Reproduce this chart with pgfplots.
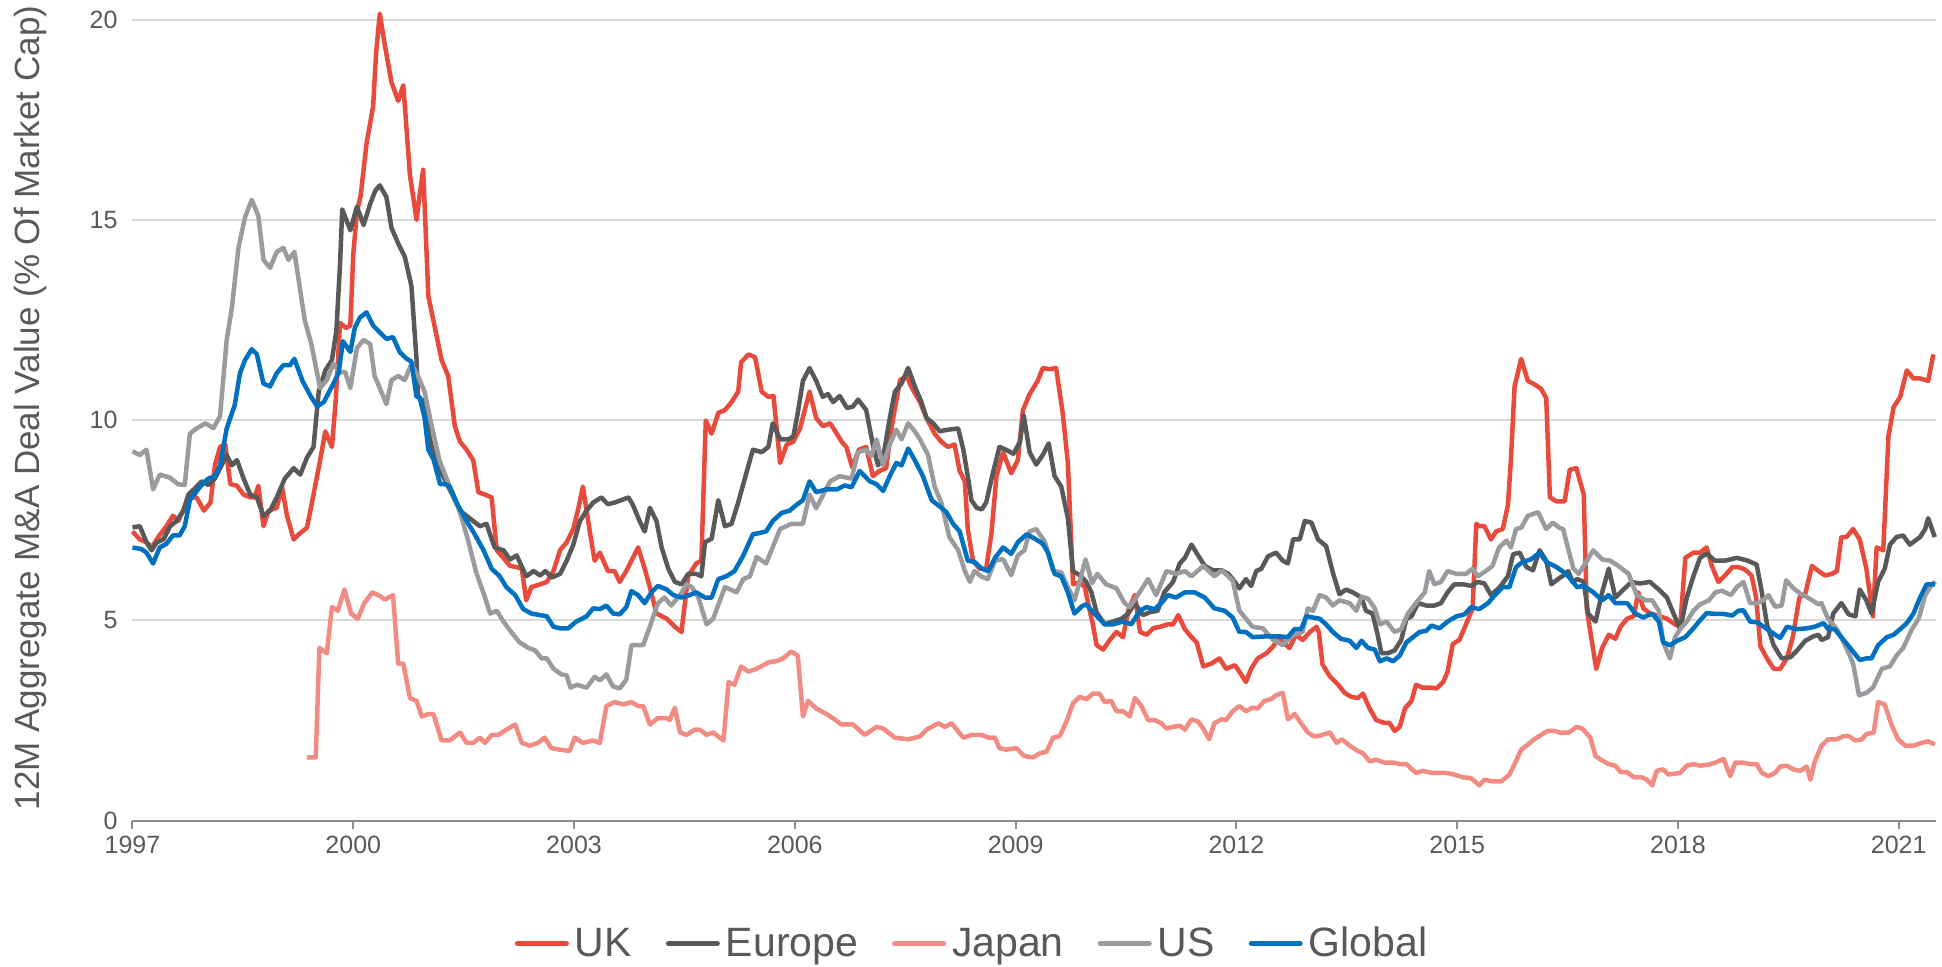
\documentclass[border=0pt]{standalone}
\usepackage{fontspec}
\setmainfont{Liberation Sans}
\usepackage{pgfplots}
\pgfplotsset{compat=1.18}
\definecolor{ukc}{HTML}{E84A3B}
\definecolor{euc}{HTML}{595959}
\definecolor{jpc}{HTML}{F28B82}
\definecolor{usc}{HTML}{999B9E}
\definecolor{glc}{HTML}{0070C0}
\definecolor{txt}{HTML}{595959}
\definecolor{grd}{HTML}{D9D9D9}
\definecolor{axc}{HTML}{8C8C8C}
\begin{document}
\begin{tikzpicture}
\begin{axis}[
 scale only axis, width=901.5pt, height=400.5pt,
 xmin=1997, xmax=2021.5, ymin=0, ymax=20,
 clip=false,
 xtick={1997,2000,2003,2006,2009,2012,2015,2018,2021},
 ytick={0,5,10,15,20},
 axis x line*=bottom, axis y line*=left,
 y axis line style={draw=none},
 x axis line style={axc, line width=1pt},
 xtick style={axc, line width=1pt},
 ytick style={draw=none},
 tick align=outside, major tick length=4pt,
 ymajorgrids, grid style={grd, line width=1pt},
 /pgf/number format/assume math mode=true,
 tick label style={font=\fontsize{12.5}{15}\selectfont, text=txt},
 xticklabel style={/pgf/number format/1000 sep={}},
 ylabel={12M Aggregate M\&A Deal Value (\% Of Market Cap)},
 ylabel style={at={(axis description cs:-0.05685,0.515)}, anchor=center, font=\fontsize{17.5}{21}\selectfont, text=txt},
 legend columns=5,
 legend style={at={(axis description cs:0.4651,-0.1536)}, anchor=center, draw=none, fill=none,
   font=\fontsize{20.5}{24}\selectfont, text=txt,
   /tikz/every odd column/.style={column sep=3pt},
   /tikz/every even column/.style={column sep=17pt},
   nodes={inner sep=0pt}},
 legend cell align=left,
 legend image code/.code={\draw[#1, line width=2.5pt, line cap=round] (1.25pt,0pt) -- (25.75pt,0pt);},
 no markers,
 every axis plot/.append style={line width=2.25pt, line join=round},
]
\addplot[ukc] coordinates {
(1997.00,7.22)(1997.10,7.02)(1997.19,6.95)(1997.26,6.82)(1997.35,7.08)(1997.46,7.35)(1997.55,7.61)(1997.62,7.48)(1997.69,7.74)(1997.78,8.07)(1997.87,8.07)(1997.97,7.74)
(1998.06,7.94)(1998.12,8.87)(1998.19,9.33)(1998.26,9.39)(1998.33,8.40)(1998.42,8.36)(1998.51,8.14)(1998.60,8.07)(1998.66,8.07)(1998.71,8.36)(1998.78,7.35)(1998.85,7.74)(1998.96,7.81)
(1999.03,8.34)(1999.10,7.61)(1999.19,7.02)(1999.26,7.15)(1999.37,7.31)(1999.46,8.14)(1999.55,9.00)(1999.62,9.72)(1999.71,9.33)(1999.76,10.45)(1999.82,12.43)(1999.90,12.30)(1999.96,12.36)
(2000.00,14.14)(2000.05,15.20)(2000.10,15.60)(2000.18,16.90)(2000.27,17.84)(2000.31,19.16)(2000.36,20.15)(2000.43,19.35)(2000.52,18.43)(2000.61,17.97)(2000.68,18.36)(2000.77,16.12)(2000.86,15.00)(2000.90,15.60)(2000.95,16.25)
(2001.02,13.09)(2001.11,12.30)(2001.20,11.50)(2001.29,11.10)(2001.38,9.85)(2001.45,9.46)(2001.54,9.26)(2001.63,9.00)(2001.70,8.20)(2001.79,8.14)(2001.88,8.07)(2001.95,6.75)
(2002.04,6.56)(2002.13,6.36)(2002.22,6.33)(2002.29,6.29)(2002.35,5.50)(2002.42,5.83)(2002.54,5.90)(2002.63,5.96)(2002.72,6.23)(2002.81,6.75)(2002.90,6.95)(2002.99,7.28)
(2003.06,7.81)(2003.12,8.34)(2003.22,7.15)(2003.28,6.49)(2003.35,6.69)(2003.46,6.23)(2003.55,6.23)(2003.62,5.96)(2003.71,6.23)(2003.80,6.56)(2003.87,6.82)(2003.96,6.29)
(2004.03,5.83)(2004.12,5.17)(2004.26,5.04)(2004.37,4.84)(2004.46,4.71)(2004.55,6.10)(2004.66,6.42)(2004.73,6.49)(2004.79,9.99)(2004.87,9.66)(2004.96,10.18)
(2005.05,10.25)(2005.14,10.45)(2005.23,10.71)(2005.27,11.44)(2005.37,11.64)(2005.46,11.57)(2005.55,10.71)(2005.64,10.58)(2005.71,10.60)(2005.80,8.93)(2005.89,9.39)(2005.98,9.46)
(2006.07,9.79)(2006.20,10.71)(2006.29,10.05)(2006.38,9.85)(2006.48,9.92)(2006.57,9.66)(2006.64,9.45)(2006.70,9.33)(2006.78,8.82)(2006.87,9.26)(2006.97,9.33)
(2007.06,8.60)(2007.15,8.73)(2007.24,8.80)(2007.33,9.99)(2007.43,11.00)(2007.52,11.10)(2007.58,10.84)(2007.70,10.45)(2007.79,10.05)(2007.90,9.66)(2007.99,9.46)
(2008.08,9.33)(2008.17,9.39)(2008.24,8.73)(2008.31,8.47)(2008.35,7.28)(2008.42,6.49)(2008.51,6.29)(2008.60,6.29)(2008.67,7.15)(2008.74,8.60)(2008.83,9.20)(2008.94,8.67)
(2009.03,9.00)(2009.10,10.25)(2009.19,10.65)(2009.30,10.98)(2009.37,11.30)(2009.46,11.27)(2009.55,11.30)(2009.64,10.18)(2009.71,8.93)(2009.78,5.90)(2009.87,5.95)(2009.94,5.83)
(2010.00,5.30)(2010.05,4.90)(2010.10,4.38)(2010.19,4.27)(2010.28,4.51)(2010.37,4.71)(2010.46,4.58)(2010.53,5.24)(2010.62,5.63)(2010.69,4.71)(2010.78,4.64)(2010.87,4.80)(2010.96,4.84)
(2011.07,4.90)(2011.14,4.90)(2011.21,5.13)(2011.30,4.78)(2011.39,4.58)(2011.46,4.45)(2011.55,3.85)(2011.66,3.92)(2011.77,4.05)(2011.86,3.79)(2011.98,3.88)
(2012.04,3.72)(2012.13,3.46)(2012.20,3.79)(2012.29,4.05)(2012.41,4.18)(2012.50,4.35)(2012.59,4.58)(2012.66,4.41)(2012.72,4.31)(2012.81,4.64)(2012.90,4.51)
(2013.00,4.71)(2013.09,4.84)(2013.12,4.70)(2013.17,3.90)(2013.27,3.60)(2013.38,3.40)(2013.47,3.19)(2013.56,3.09)(2013.65,3.06)(2013.72,3.17)(2013.81,2.80)(2013.90,2.51)
(2014.01,2.44)(2014.08,2.44)(2014.15,2.24)(2014.22,2.34)(2014.29,2.80)(2014.38,2.99)(2014.44,3.39)(2014.53,3.32)(2014.63,3.32)(2014.72,3.30)(2014.81,3.46)(2014.87,3.72)(2014.94,4.41)
(2015.03,4.51)(2015.12,4.90)(2015.21,5.30)(2015.26,7.41)(2015.30,7.35)(2015.37,7.35)(2015.46,7.02)(2015.53,7.22)(2015.62,7.28)(2015.69,7.88)(2015.73,9.00)(2015.78,10.84)(2015.87,11.53)(2015.96,10.98)
(2016.07,10.87)(2016.14,10.78)(2016.21,10.55)(2016.26,8.07)(2016.35,7.97)(2016.46,7.97)(2016.53,8.76)(2016.62,8.80)(2016.72,8.14)(2016.76,5.30)(2016.81,4.71)(2016.89,3.79)(2016.97,4.31)
(2017.06,4.64)(2017.15,4.54)(2017.22,4.84)(2017.31,5.04)(2017.40,5.10)(2017.46,5.70)(2017.53,5.30)(2017.62,5.17)(2017.76,5.10)(2017.85,5.04)(2017.96,4.90)
(2018.03,4.84)(2018.10,6.56)(2018.21,6.69)(2018.30,6.69)(2018.39,6.82)(2018.46,6.36)(2018.55,5.96)(2018.64,6.12)(2018.74,6.33)(2018.82,6.33)(2018.91,6.27)
(2019.00,6.12)(2019.06,5.60)(2019.12,4.35)(2019.21,4.05)(2019.30,3.79)(2019.39,3.79)(2019.48,4.05)(2019.56,4.58)(2019.65,5.57)(2019.73,5.66)(2019.82,6.36)(2019.91,6.23)
(2020.00,6.12)(2020.09,6.16)(2020.16,6.23)(2020.22,7.08)(2020.29,7.08)(2020.38,7.28)(2020.47,7.02)(2020.56,6.29)(2020.61,5.63)(2020.65,5.10)(2020.70,6.82)(2020.79,6.75)(2020.86,9.59)(2020.93,10.32)
(2021.02,10.58)(2021.11,11.24)(2021.20,11.04)(2021.29,11.04)(2021.40,10.98)(2021.47,11.64)
};
\addlegendentry{UK}
\addplot[euc] coordinates {
(1997.00,7.32)(1997.10,7.35)(1997.19,6.95)(1997.26,6.75)(1997.33,6.95)(1997.42,7.02)(1997.51,7.35)(1997.60,7.48)(1997.69,7.74)(1997.76,8.14)(1997.85,8.30)(1997.94,8.47)
(1998.03,8.38)(1998.12,8.54)(1998.19,8.80)(1998.28,9.13)(1998.35,8.87)(1998.42,9.00)(1998.51,8.54)(1998.60,8.14)(1998.69,8.07)(1998.78,7.61)(1998.87,7.74)(1998.96,8.07)
(1999.07,8.54)(1999.19,8.80)(1999.28,8.64)(1999.37,9.06)(1999.46,9.33)(1999.53,10.71)(1999.62,11.24)(1999.71,11.50)(1999.77,12.23)(1999.82,13.88)(1999.85,15.26)(1999.96,14.74)
(2000.05,15.33)(2000.14,14.87)(2000.23,15.40)(2000.30,15.73)(2000.36,15.86)(2000.45,15.57)(2000.52,14.80)(2000.61,14.41)(2000.70,14.08)(2000.79,13.35)(2000.86,11.50)(2000.88,10.58)(2000.97,10.45)
(2001.04,9.53)(2001.13,8.87)(2001.22,8.60)(2001.31,8.27)(2001.45,7.74)(2001.58,7.55)(2001.72,7.35)(2001.81,7.41)(2001.92,6.82)
(2002.04,6.75)(2002.13,6.52)(2002.22,6.62)(2002.35,6.10)(2002.45,6.23)(2002.54,6.12)(2002.61,6.23)(2002.70,6.07)(2002.81,6.16)(2002.90,6.49)(2002.99,6.89)
(2003.08,7.48)(2003.17,7.74)(2003.26,7.94)(2003.37,8.07)(2003.46,7.90)(2003.55,7.94)(2003.64,8.00)(2003.74,8.07)(2003.80,7.88)(2003.89,7.48)(2003.96,7.22)
(2004.03,7.81)(2004.12,7.48)(2004.19,6.82)(2004.28,6.29)(2004.37,5.96)(2004.46,5.90)(2004.55,6.16)(2004.66,6.16)(2004.73,6.10)(2004.78,6.95)(2004.87,7.04)(2004.96,8.00)
(2005.05,7.35)(2005.14,7.41)(2005.23,7.94)(2005.34,8.67)(2005.43,9.26)(2005.55,9.20)(2005.64,9.33)(2005.70,9.92)(2005.80,9.52)(2005.91,9.52)(2005.98,9.59)
(2006.04,10.18)(2006.11,10.98)(2006.20,11.30)(2006.29,10.98)(2006.38,10.58)(2006.45,10.65)(2006.52,10.45)(2006.61,10.60)(2006.71,10.30)(2006.79,10.34)(2006.86,10.51)(2006.97,10.25)
(2007.06,9.39)(2007.13,8.87)(2007.20,9.06)(2007.29,10.05)(2007.36,10.71)(2007.45,10.91)(2007.54,11.30)(2007.63,10.84)(2007.72,10.45)(2007.79,10.05)(2007.88,9.92)(2007.97,9.72)
(2008.08,9.76)(2008.22,9.79)(2008.29,9.26)(2008.35,8.60)(2008.40,8.00)(2008.47,7.81)(2008.54,7.77)(2008.60,7.94)(2008.69,8.67)(2008.78,9.33)(2008.87,9.26)(2008.97,9.16)
(2009.06,9.46)(2009.11,10.12)(2009.19,9.20)(2009.28,8.89)(2009.37,9.13)(2009.45,9.42)(2009.53,8.60)(2009.62,8.34)(2009.71,7.55)(2009.78,6.23)(2009.87,6.13)(2009.96,5.96)
(2010.03,5.70)(2010.10,5.20)(2010.21,4.90)(2010.32,4.97)(2010.44,5.04)(2010.53,5.17)(2010.62,5.43)(2010.73,5.13)(2010.82,5.20)(2010.93,5.24)
(2011.02,5.70)(2011.14,5.96)(2011.23,6.42)(2011.30,6.56)(2011.39,6.89)(2011.48,6.62)(2011.57,6.36)(2011.68,6.25)(2011.80,6.25)(2011.89,6.16)(2011.98,5.96)
(2012.04,5.80)(2012.13,6.03)(2012.20,5.86)(2012.27,6.23)(2012.34,6.29)(2012.43,6.60)(2012.54,6.69)(2012.63,6.49)(2012.70,6.42)(2012.77,7.02)(2012.86,7.02)(2012.93,7.48)
(2013.02,7.44)(2013.11,7.02)(2013.22,6.85)(2013.31,6.20)(2013.40,5.65)(2013.49,5.77)(2013.58,5.70)(2013.70,5.57)(2013.76,5.24)(2013.85,5.17)(2013.92,4.64)(2013.97,4.18)
(2014.06,4.18)(2014.15,4.25)(2014.24,4.51)(2014.31,5.04)(2014.38,5.10)(2014.47,5.43)(2014.58,5.37)(2014.69,5.37)(2014.78,5.43)(2014.87,5.70)(2014.96,5.90)
(2015.08,5.90)(2015.19,5.86)(2015.28,5.96)(2015.37,5.92)(2015.46,5.63)(2015.58,5.83)(2015.69,6.10)(2015.76,6.65)(2015.85,6.69)(2015.94,6.33)
(2016.03,6.25)(2016.12,6.75)(2016.21,6.49)(2016.28,5.90)(2016.37,6.03)(2016.46,6.14)(2016.51,6.23)(2016.57,5.95)(2016.63,6.03)(2016.72,5.96)(2016.78,5.17)(2016.88,4.97)(2016.97,5.70)
(2017.06,6.29)(2017.15,5.57)(2017.26,5.77)(2017.37,5.96)(2017.48,5.92)(2017.62,5.96)(2017.74,5.77)(2017.85,5.57)(2017.94,5.17)
(2018.03,4.78)(2018.12,5.57)(2018.21,6.10)(2018.30,6.56)(2018.39,6.67)(2018.50,6.49)(2018.64,6.49)(2018.80,6.56)(2018.95,6.49)
(2019.07,6.39)(2019.14,5.70)(2019.21,4.90)(2019.30,4.38)(2019.41,4.05)(2019.53,4.08)(2019.62,4.25)(2019.73,4.49)(2019.84,4.60)(2019.91,4.64)(2019.95,4.51)
(2020.04,4.58)(2020.11,5.17)(2020.22,5.43)(2020.32,5.15)(2020.41,5.10)(2020.47,5.77)(2020.56,5.50)(2020.63,5.17)(2020.72,5.96)(2020.81,6.29)(2020.88,6.89)(2020.97,7.08)
(2021.06,7.12)(2021.15,6.89)(2021.29,7.08)(2021.36,7.28)(2021.40,7.55)(2021.49,7.08)
};
\addlegendentry{Europe}
\addplot[jpc] coordinates {
(1999.37,1.58)(1999.49,1.58)(1999.54,4.31)(1999.64,4.18)(1999.71,5.33)(1999.79,5.24)(1999.88,5.77)(1999.97,5.17)
(2000.06,5.04)(2000.15,5.43)(2000.26,5.70)(2000.35,5.62)(2000.43,5.52)(2000.54,5.63)(2000.61,3.92)(2000.68,3.92)(2000.77,3.06)(2000.86,2.99)(2000.93,2.60)
(2001.02,2.66)(2001.09,2.66)(2001.20,2.00)(2001.31,2.00)(2001.45,2.20)(2001.54,1.94)(2001.63,1.94)(2001.72,2.07)(2001.79,1.94)(2001.88,2.14)(2001.97,2.14)
(2002.08,2.27)(2002.20,2.40)(2002.29,1.94)(2002.40,1.87)(2002.51,1.94)(2002.60,2.07)(2002.69,1.81)(2002.81,1.77)(2002.94,1.74)
(2003.01,2.07)(2003.12,1.94)(2003.26,2.00)(2003.35,1.94)(2003.44,2.86)(2003.55,2.96)(2003.67,2.90)(2003.78,2.96)(2003.87,2.86)(2003.94,2.86)
(2004.03,2.40)(2004.14,2.56)(2004.26,2.56)(2004.30,2.51)(2004.37,2.82)(2004.44,2.20)(2004.53,2.14)(2004.64,2.27)(2004.71,2.27)(2004.80,2.14)(2004.89,2.20)
(2005.03,2.00)(2005.10,3.46)(2005.18,3.39)(2005.27,3.85)(2005.37,3.72)(2005.48,3.79)(2005.57,3.88)(2005.66,3.96)(2005.75,3.98)(2005.84,4.05)(2005.95,4.22)
(2006.04,4.12)(2006.11,2.60)(2006.18,2.99)(2006.29,2.80)(2006.43,2.66)(2006.54,2.53)(2006.63,2.40)(2006.79,2.40)(2006.95,2.14)
(2007.11,2.34)(2007.20,2.30)(2007.36,2.07)(2007.54,2.03)(2007.70,2.10)(2007.79,2.27)(2007.95,2.43)
(2008.04,2.34)(2008.13,2.43)(2008.20,2.27)(2008.29,2.07)(2008.40,2.14)(2008.54,2.14)(2008.63,2.07)(2008.72,2.07)(2008.78,1.81)(2008.87,1.77)
(2009.01,1.81)(2009.12,1.61)(2009.24,1.58)(2009.33,1.68)(2009.42,1.72)(2009.51,2.07)(2009.60,2.11)(2009.69,2.47)(2009.78,2.93)(2009.87,3.09)(2009.96,3.03)
(2010.05,3.17)(2010.14,3.17)(2010.21,2.96)(2010.30,2.99)(2010.37,2.73)(2010.46,2.73)(2010.55,2.60)(2010.62,3.06)(2010.71,2.86)(2010.80,2.51)(2010.89,2.51)(2010.98,2.43)
(2011.05,2.30)(2011.14,2.34)(2011.23,2.37)(2011.30,2.27)(2011.39,2.53)(2011.48,2.47)(2011.55,2.30)(2011.63,2.03)(2011.70,2.43)(2011.80,2.53)(2011.86,2.51)(2011.95,2.73)
(2012.04,2.86)(2012.13,2.73)(2012.22,2.82)(2012.29,2.80)(2012.38,2.99)(2012.47,3.03)(2012.54,3.13)(2012.63,3.19)(2012.70,2.53)(2012.79,2.66)(2012.88,2.43)(2012.97,2.20)
(2013.06,2.10)(2013.13,2.12)(2013.27,2.20)(2013.36,1.94)(2013.43,2.03)(2013.54,1.87)(2013.65,1.74)(2013.72,1.68)(2013.81,1.48)(2013.90,1.52)
(2014.01,1.45)(2014.13,1.45)(2014.22,1.41)(2014.31,1.41)(2014.44,1.19)(2014.53,1.24)(2014.67,1.19)(2014.85,1.19)(2014.96,1.15)
(2015.08,1.08)(2015.19,1.06)(2015.30,0.88)(2015.37,1.02)(2015.48,0.98)(2015.60,0.98)(2015.71,1.15)(2015.78,1.41)(2015.87,1.77)(2015.96,1.90)
(2016.07,2.06)(2016.14,2.14)(2016.23,2.24)(2016.32,2.24)(2016.41,2.19)(2016.52,2.20)(2016.62,2.34)(2016.70,2.30)(2016.81,2.07)(2016.88,1.61)(2016.97,1.50)
(2017.06,1.41)(2017.15,1.37)(2017.22,1.21)(2017.31,1.21)(2017.40,1.08)(2017.51,1.08)(2017.58,1.02)(2017.65,0.88)(2017.71,1.24)(2017.80,1.28)(2017.87,1.15)
(2018.03,1.19)(2018.12,1.37)(2018.21,1.41)(2018.30,1.37)(2018.42,1.40)(2018.51,1.45)(2018.62,1.54)(2018.71,1.11)(2018.78,1.45)(2018.87,1.45)(2018.98,1.41)
(2019.07,1.41)(2019.14,1.19)(2019.23,1.11)(2019.32,1.19)(2019.39,1.35)(2019.48,1.37)(2019.57,1.28)(2019.66,1.24)(2019.75,1.35)(2019.80,1.02)(2019.86,1.48)(2019.95,1.87)
(2020.04,2.03)(2020.16,2.03)(2020.25,2.11)(2020.32,2.11)(2020.41,2.00)(2020.50,2.03)(2020.56,2.16)(2020.66,2.20)(2020.72,2.96)(2020.81,2.90)(2020.90,2.40)(2020.99,2.03)
(2021.09,1.87)(2021.20,1.87)(2021.31,1.94)(2021.40,1.98)(2021.49,1.90)
};
\addlegendentry{Japan}
\addplot[usc] coordinates {
(1997.00,9.22)(1997.10,9.13)(1997.19,9.26)(1997.28,8.27)(1997.37,8.64)(1997.51,8.56)(1997.62,8.40)(1997.71,8.38)(1997.78,9.66)(1997.87,9.79)(1997.99,9.92)
(1998.10,9.80)(1998.19,10.10)(1998.28,12.00)(1998.35,12.80)(1998.44,14.30)(1998.53,15.07)(1998.62,15.50)(1998.71,15.10)(1998.78,14.00)(1998.87,13.80)(1998.96,14.20)
(1999.05,14.30)(1999.12,14.00)(1999.20,14.20)(1999.34,12.50)(1999.43,11.90)(1999.55,10.80)(1999.64,11.00)(1999.73,11.40)(1999.82,11.20)(1999.89,11.20)(1999.96,10.80)
(2000.05,11.80)(2000.14,12.00)(2000.23,11.90)(2000.29,11.10)(2000.36,10.80)(2000.45,10.40)(2000.52,11.00)(2000.61,11.10)(2000.70,11.00)(2000.79,11.40)(2000.88,11.10)(2000.97,10.70)
(2001.06,9.90)(2001.17,9.00)(2001.31,8.34)(2001.45,7.70)(2001.56,7.00)(2001.67,6.20)(2001.79,5.57)(2001.86,5.17)(2001.95,5.24)
(2002.04,4.97)(2002.15,4.70)(2002.26,4.45)(2002.38,4.31)(2002.47,4.25)(2002.56,4.05)(2002.63,4.05)(2002.72,3.79)(2002.83,3.65)(2002.90,3.63)(2002.95,3.32)
(2003.04,3.39)(2003.17,3.32)(2003.28,3.59)(2003.35,3.50)(2003.44,3.65)(2003.53,3.35)(2003.62,3.30)(2003.71,3.52)(2003.78,4.38)(2003.94,4.38)
(2004.03,4.84)(2004.14,5.43)(2004.23,5.57)(2004.32,5.37)(2004.44,5.63)(2004.53,5.90)(2004.60,5.83)(2004.69,5.57)(2004.80,4.90)(2004.89,5.04)
(2005.05,5.83)(2005.21,5.70)(2005.30,6.03)(2005.39,6.10)(2005.48,6.58)(2005.61,6.42)(2005.80,7.28)(2005.95,7.41)
(2006.11,7.41)(2006.20,8.14)(2006.29,7.80)(2006.48,8.47)(2006.61,8.60)(2006.77,8.54)(2006.86,9.20)(2006.97,9.26)
(2007.04,9.10)(2007.11,9.52)(2007.20,8.87)(2007.29,9.40)(2007.38,9.76)(2007.45,9.52)(2007.54,9.92)(2007.63,9.72)(2007.70,9.52)(2007.81,9.13)(2007.90,8.34)(2007.99,7.94)
(2008.10,7.08)(2008.22,6.75)(2008.31,6.23)(2008.38,5.96)(2008.44,6.23)(2008.53,6.10)(2008.62,6.03)(2008.72,6.49)(2008.83,6.53)(2008.94,6.13)
(2009.03,6.62)(2009.12,6.75)(2009.19,7.22)(2009.28,7.28)(2009.40,6.95)(2009.51,6.23)(2009.62,6.20)(2009.71,5.83)(2009.80,5.50)(2009.87,5.96)(2009.95,6.52)
(2010.04,5.93)(2010.11,6.16)(2010.23,5.90)(2010.37,5.80)(2010.48,5.43)(2010.55,5.33)(2010.66,5.63)(2010.80,6.03)(2010.91,5.63)
(2011.05,6.23)(2011.18,6.16)(2011.30,6.23)(2011.39,6.10)(2011.55,6.36)(2011.70,6.10)(2011.80,6.25)(2011.95,5.99)
(2012.04,5.24)(2012.13,5.04)(2012.22,4.84)(2012.36,4.80)(2012.50,4.51)(2012.63,4.38)(2012.77,4.64)(2012.90,4.71)(2012.97,5.30)
(2013.04,5.24)(2013.13,5.63)(2013.22,5.57)(2013.31,5.37)(2013.40,5.50)(2013.54,5.43)(2013.63,5.24)(2013.70,5.59)(2013.79,5.54)(2013.88,5.30)(2013.95,4.90)
(2014.04,4.97)(2014.15,4.71)(2014.24,4.78)(2014.33,5.17)(2014.47,5.50)(2014.56,5.70)(2014.62,6.23)(2014.69,5.90)(2014.78,5.96)(2014.87,6.23)(2014.99,6.16)
(2015.12,6.16)(2015.21,6.29)(2015.28,6.10)(2015.39,6.23)(2015.48,6.36)(2015.57,6.82)(2015.67,6.99)(2015.73,6.82)(2015.80,7.28)(2015.87,7.31)(2015.96,7.61)
(2016.10,7.70)(2016.21,7.28)(2016.30,7.44)(2016.39,7.31)(2016.44,7.28)(2016.52,6.70)(2016.58,6.29)(2016.65,6.16)(2016.74,6.42)(2016.85,6.75)(2016.97,6.52)
(2017.08,6.49)(2017.19,6.36)(2017.33,6.16)(2017.44,5.63)(2017.56,5.50)(2017.65,5.50)(2017.74,5.24)(2017.80,4.45)(2017.89,4.05)(2017.96,4.58)
(2018.03,4.78)(2018.12,4.97)(2018.21,5.24)(2018.30,5.40)(2018.42,5.50)(2018.51,5.70)(2018.60,5.74)(2018.72,5.63)(2018.80,5.83)(2018.89,5.96)(2018.98,5.43)
(2019.07,5.43)(2019.16,5.50)(2019.23,5.63)(2019.32,5.34)(2019.41,5.37)(2019.47,6.00)(2019.57,5.80)(2019.66,5.67)(2019.78,5.55)(2019.91,5.40)(2019.95,5.43)
(2020.04,5.04)(2020.16,4.78)(2020.29,4.31)(2020.38,3.92)(2020.46,3.13)(2020.56,3.19)(2020.65,3.32)(2020.77,3.79)(2020.88,3.85)(2020.97,4.12)
(2021.06,4.31)(2021.18,4.78)(2021.27,5.04)(2021.36,5.63)(2021.45,5.90)(2021.50,5.96)
};
\addlegendentry{US}
\addplot[glc] coordinates {
(1997.00,6.82)(1997.12,6.78)(1997.19,6.69)(1997.28,6.42)(1997.37,6.82)(1997.46,6.91)(1997.55,7.12)(1997.64,7.12)(1997.71,7.35)(1997.78,8.00)(1997.92,8.34)
(1998.03,8.54)(1998.12,8.60)(1998.19,8.87)(1998.28,9.79)(1998.39,10.38)(1998.46,11.17)(1998.53,11.50)(1998.62,11.77)(1998.69,11.64)(1998.78,10.91)(1998.87,10.84)(1998.96,11.17)
(1999.05,11.37)(1999.14,11.37)(1999.20,11.53)(1999.31,10.98)(1999.42,10.60)(1999.51,10.34)(1999.60,10.45)(1999.71,10.84)(1999.80,11.17)(1999.86,11.97)(1999.96,11.70)
(2000.02,12.30)(2000.09,12.56)(2000.18,12.69)(2000.27,12.36)(2000.36,12.19)(2000.45,12.03)(2000.54,12.07)(2000.63,11.70)(2000.72,11.54)(2000.79,11.46)(2000.86,10.58)(2000.90,10.58)(2000.97,10.05)
(2001.02,9.26)(2001.09,9.02)(2001.18,8.40)(2001.25,8.40)(2001.31,8.34)(2001.42,7.88)(2001.54,7.48)(2001.65,7.15)(2001.77,6.75)(2001.88,6.29)(2001.99,6.10)
(2002.08,5.83)(2002.20,5.63)(2002.31,5.28)(2002.42,5.17)(2002.54,5.13)(2002.63,5.10)(2002.72,4.84)(2002.81,4.80)(2002.92,4.80)
(2003.03,4.97)(2003.17,5.10)(2003.26,5.30)(2003.35,5.28)(2003.44,5.37)(2003.53,5.17)(2003.62,5.15)(2003.71,5.33)(2003.78,5.73)(2003.87,5.63)(2003.96,5.43)
(2004.05,5.70)(2004.14,5.86)(2004.26,5.77)(2004.35,5.63)(2004.46,5.57)(2004.57,5.63)(2004.66,5.70)(2004.78,5.57)(2004.87,5.57)(2004.96,6.03)
(2005.07,6.10)(2005.18,6.23)(2005.30,6.62)(2005.43,7.15)(2005.52,7.18)(2005.61,7.22)(2005.70,7.48)(2005.82,7.68)(2005.93,7.74)
(2006.02,7.88)(2006.11,8.00)(2006.20,8.47)(2006.29,8.20)(2006.43,8.27)(2006.57,8.27)(2006.68,8.37)(2006.77,8.32)(2006.88,8.73)
(2007.02,8.47)(2007.11,8.40)(2007.20,8.23)(2007.29,8.60)(2007.38,8.93)(2007.45,8.87)(2007.54,9.29)(2007.63,9.00)(2007.74,8.60)(2007.86,8.00)(2007.97,7.84)
(2008.06,7.70)(2008.15,7.41)(2008.24,7.22)(2008.35,6.49)(2008.44,6.46)(2008.54,6.29)(2008.63,6.23)(2008.72,6.56)(2008.83,6.82)(2008.94,6.66)
(2009.03,6.95)(2009.15,7.15)(2009.26,7.04)(2009.37,6.91)(2009.44,6.69)(2009.53,6.16)(2009.62,6.10)(2009.71,5.70)(2009.80,5.17)(2009.90,5.35)(2009.96,5.40)
(2010.07,5.17)(2010.21,4.90)(2010.32,4.90)(2010.46,4.97)(2010.57,4.90)(2010.69,5.24)(2010.78,5.33)(2010.89,5.28)(2010.98,5.43)
(2011.07,5.63)(2011.18,5.57)(2011.30,5.70)(2011.43,5.70)(2011.57,5.57)(2011.70,5.30)(2011.84,5.24)(2011.95,5.07)
(2012.04,4.71)(2012.13,4.71)(2012.22,4.58)(2012.41,4.60)(2012.59,4.60)(2012.70,4.58)(2012.79,4.78)(2012.88,4.78)(2012.95,5.10)
(2013.04,5.07)(2013.13,5.04)(2013.22,4.90)(2013.31,4.71)(2013.42,4.54)(2013.54,4.49)(2013.63,4.31)(2013.70,4.49)(2013.79,4.31)(2013.88,4.27)(2013.95,3.98)
(2014.04,4.05)(2014.13,3.98)(2014.22,4.12)(2014.31,4.45)(2014.40,4.58)(2014.49,4.71)(2014.58,4.74)(2014.65,4.87)(2014.76,4.80)(2014.87,4.97)(2014.99,5.10)
(2015.10,5.15)(2015.19,5.33)(2015.30,5.28)(2015.42,5.43)(2015.51,5.63)(2015.62,5.83)(2015.71,5.83)(2015.80,6.33)(2015.89,6.46)
(2016.00,6.52)(2016.12,6.69)(2016.21,6.46)(2016.35,6.33)(2016.45,6.20)(2016.51,6.10)(2016.63,5.83)(2016.72,5.86)(2016.85,5.70)(2016.97,5.50)
(2017.06,5.63)(2017.15,5.43)(2017.31,5.43)(2017.42,5.17)(2017.53,5.07)(2017.65,5.17)(2017.74,4.97)(2017.80,4.45)(2017.89,4.38)(2017.99,4.49)
(2018.10,4.58)(2018.21,4.80)(2018.30,5.00)(2018.39,5.18)(2018.51,5.16)(2018.62,5.16)(2018.74,5.12)(2018.82,5.24)(2018.89,5.25)(2018.98,4.97)
(2019.08,4.95)(2019.21,4.78)(2019.30,4.67)(2019.39,4.56)(2019.48,4.84)(2019.61,4.78)(2019.75,4.80)(2019.86,4.84)(2019.98,4.93)
(2020.04,4.78)(2020.13,4.78)(2020.22,4.58)(2020.34,4.31)(2020.47,4.01)(2020.56,4.05)(2020.63,4.05)(2020.72,4.38)(2020.84,4.58)(2020.93,4.64)
(2021.02,4.78)(2021.11,4.93)(2021.20,5.17)(2021.29,5.57)(2021.38,5.90)(2021.49,5.90)
};
\addlegendentry{Global}
\end{axis}
\pgfresetboundingbox
\path (-66.25pt,-73pt) rectangle (904.75pt,410.3pt);
\end{tikzpicture}
\end{document}
